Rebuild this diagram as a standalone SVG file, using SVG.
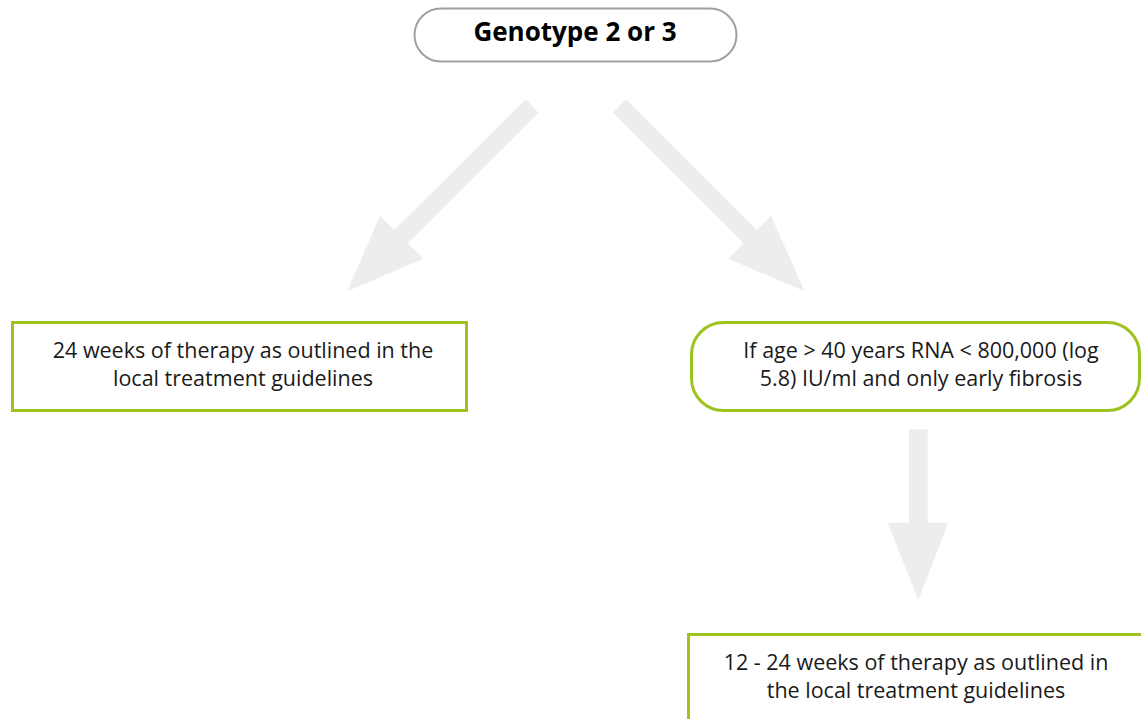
<svg xmlns="http://www.w3.org/2000/svg" width="1141" height="719" viewBox="0 0 1141 719">
  <style>
    .arrow { fill: #ECEDEC; }
    .start { fill: #FFFFFF; stroke: #A0A0A0; stroke-width: 2; }
    .box { fill: #FFFFFF; stroke: #9DC31F; stroke-width: 3; }
    .label { font-family: "Open Sans", "Liberation Sans", sans-serif; font-size: 21.5px; fill: #1A1A1A; text-anchor: middle; }
    .title { font-family: "Open Sans", "Liberation Sans", sans-serif; font-size: 26px; font-weight: bold; fill: #000000; text-anchor: middle; }
  </style>

  <!-- connectors: broad block arrows -->
  <g id="connectors">
    <polygon class="arrow" points="525.7,99.3 538.7,112.7 408,243.3 423.3,258.7 347.3,291.3 380,215.7 394.3,230"/>
    <polygon class="arrow" points="626,99.3 613,112.7 743.7,243.3 728.3,258.7 804.7,291.3 771,215.7 757,230"/>
    <polygon class="arrow" points="909,429.3 927.7,429.3 927.7,522.7 948.3,522.7 918.3,600 887.7,522.7 909,522.7"/>
  </g>

  <g id="genotype">
    <rect class="start" x="414.5" y="8.5" width="322" height="53" rx="26.5" ry="26.5"/>
    <text class="title" x="575" y="41">Genotype 2 or 3</text>
  </g>

  <g id="therapy-24">
    <rect class="box" x="12.5" y="322.5" width="454" height="88"/>
    <text class="label" x="243" y="358">24 weeks of therapy as outlined in the</text>
    <text class="label" x="243" y="386">local treatment guidelines</text>
  </g>

  <g id="criteria">
    <rect class="box" x="691.5" y="322.5" width="448" height="88" rx="32" ry="32"/>
    <text class="label" x="921" y="358">If age &gt; 40 years RNA &lt; 800,000 (log</text>
    <text class="label" x="921" y="386">5.8) IU/ml and only early fibrosis</text>
  </g>

  <g id="therapy-12-24">
    <rect class="box" x="688.5" y="634.5" width="470" height="100"/>
    <text class="label" x="916" y="670">12 - 24 weeks of therapy as outlined in</text>
    <text class="label" x="916" y="698">the local treatment guidelines</text>
  </g>
</svg>
